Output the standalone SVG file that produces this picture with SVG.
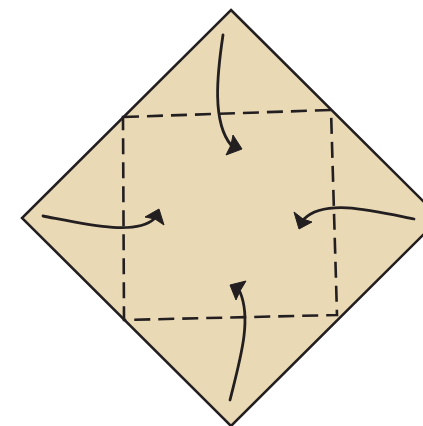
<svg xmlns="http://www.w3.org/2000/svg" width="423" height="426" viewBox="0 0 423 426">
<style>
.paper{fill:#e9d9b5;stroke:#231f20;stroke-width:2.5;stroke-linejoin:miter}
.fold{fill:none;stroke:#231f20;stroke-width:2.6;stroke-dasharray:16 8}
.shaft{fill:none;stroke:#231f20;stroke-width:2.8;stroke-linecap:round}
.head{fill:#231f20;stroke:#231f20;stroke-width:1;stroke-linejoin:round}
</style>
<rect width="423" height="426" fill="#ffffff"/>
<g id="paper">
<polygon class="paper" points="231,10 440,218 231,426 22,218"/>
</g>
<g id="fold-lines">
<polygon class="fold" points="123,117 331,110 337,315 124,320"/>
</g>
<g id="arrows">
<g id="arrow-top">
<path class="shaft" d="M223,35 C217,75 212,122 231,145"/>
<path class="head" d="M242,149 L233,135 L231,145 L226,155 Z"/>
</g>
<g id="arrow-left">
<path class="shaft" d="M43,216 C85,224 135,236 154,219"/>
<path class="head" d="M159,209 L145,217 L155,219 L164,225 Z"/>
</g>
<g id="arrow-right">
<path class="shaft" d="M414,219 C375,211 325,198 304,219"/>
<path class="head" d="M299,229 L312,222 L303,219 L294,212 Z"/>
</g>
<g id="arrow-bottom">
<path class="shaft" d="M230,400 C240,360 252,320 240,292"/>
<path class="head" d="M230,285 L236,300 L240,291 L246,281 Z"/>
</g>
</g>
</svg>
